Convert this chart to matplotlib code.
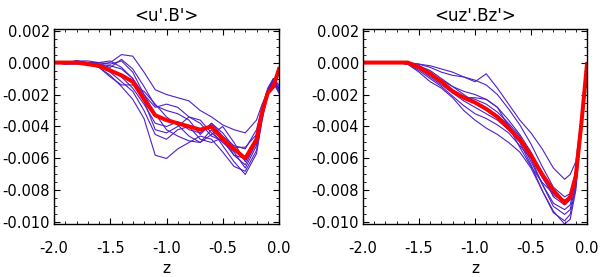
import numpy as np
import matplotlib
matplotlib.use("Agg")
import matplotlib.pyplot as plt
from matplotlib.ticker import MultipleLocator, FormatStrFormatter

plt.rcParams['font.family'] = ['DejaVu Sans']
plt.rcParams['axes.unicode_minus'] = False

# depth grid shared by all profiles
z = [-2.0, -1.9, -1.8, -1.7, -1.6, -1.5, -1.4, -1.3, -1.2, -1.1, -1.0, -0.9,
     -0.8, -0.7, -0.6, -0.5, -0.4, -0.3, -0.2, -0.15, -0.1, -0.05, 0.0]

# <u'.B'>  (units of 1e-3)
ub_runs = [
    [0, 0, 0.1, 0, -0.1, 0, 0.5, 0.4, -0.6, -1.7, -2.0, -2.2, -2.4, -3.0, -3.4, -3.9, -4.2, -4.4, -3.6, -2.6, -1.8, -1.2, -1.5],
    [0, 0, 0, -0.1, -0.3, -0.8, -1.5, -2.3, -3.5, -5.8, -6.0, -5.4, -5.0, -4.6, -4.8, -5.6, -6.5, -6.8, -5.5, -3.5, -1.9, -1.2, -1.8],
    [0, -0.1, 0, -0.1, -0.1, -0.3, 0.2, -0.4, -1.5, -2.7, -3.0, -3.2, -3.6, -4.5, -3.8, -4.6, -5.2, -5.4, -4.2, -2.8, -1.6, -1.0, -1.6],
    [0, 0, 0, 0, -0.2, -0.6, -1.2, -1.8, -3.0, -4.5, -4.8, -4.2, -4.0, -4.8, -5.0, -4.7, -5.8, -6.4, -5.0, -3.2, -1.8, -1.1, -1.9],
    [0, 0, 0.1, 0, -0.1, -0.2, -0.4, -1.0, -2.4, -4.2, -4.4, -4.0, -3.4, -3.6, -4.4, -5.0, -5.6, -6.6, -5.2, -3.3, -1.9, -1.2, -1.7],
    [0, 0, 0, -0.1, -0.3, -0.9, -1.4, -1.4, -1.8, -2.6, -3.4, -3.9, -4.6, -5.0, -4.5, -4.0, -5.0, -6.2, -5.0, -3.0, -1.7, -1.0, -1.4],
    [0, -0.1, -0.1, 0, 0, 0.1, -0.3, -1.0, -2.0, -3.2, -4.2, -4.6, -4.9, -5.0, -4.2, -5.2, -6.2, -7.0, -5.7, -3.6, -2.0, -1.3, -1.9],
    [0, 0, 0, 0, -0.1, -0.4, -0.9, -1.6, -2.6, -3.8, -4.0, -3.7, -4.2, -4.4, -3.8, -4.4, -5.3, -5.3, -4.5, -3.0, -1.7, -1.1, -1.6],
    [0, 0, 0.1, 0.1, 0, -0.1, 0.1, -0.6, -2.0, -2.8, -2.6, -2.8, -3.4, -3.8, -4.6, -4.9, -5.8, -6.0, -4.8, -3.1, -1.8, -1.1, -1.7],
]
ub_mean = [0, 0, 0, -0.1, -0.2, -0.5, -0.8, -1.2, -2.3, -3.3, -3.6, -3.8, -4.0, -4.2, -4.0, -4.8, -5.4, -6.0, -4.8, -3.1, -1.9, -1.5, -0.4]

# <uz'.Bz'>  (units of 1e-3)
uzbz_runs = [
    [0, 0, 0, 0, 0, -0.1, -0.2, -0.4, -0.6, -0.9, -1.2, -0.7, -1.6, -2.6, -3.6, -4.4, -5.4, -6.6, -7.3, -7.0, -6.2, -3.4, 0],
    [0, 0, 0, 0, 0, -0.1, -0.3, -0.6, -0.8, -0.9, -1.1, -1.4, -2.0, -2.9, -3.9, -5.1, -6.5, -7.8, -8.4, -8.2, -6.8, -3.6, 0],
    [0, 0, 0, 0, -0.1, -0.3, -0.7, -1.1, -1.5, -1.8, -2.0, -2.3, -2.8, -3.6, -4.5, -5.6, -7.0, -8.4, -8.9, -8.6, -7.2, -3.8, 0],
    [0, 0, 0, 0, 0, -0.2, -0.6, -1.2, -1.7, -2.1, -2.3, -2.6, -3.1, -3.8, -4.6, -6.0, -7.6, -9.0, -9.5, -9.2, -7.6, -4.0, 0],
    [0, 0, 0, 0, -0.1, -0.4, -0.9, -1.4, -1.9, -2.4, -2.8, -3.2, -3.6, -4.2, -5.0, -6.4, -8.0, -9.4, -9.9, -9.5, -7.8, -4.1, 0],
    [0, 0, 0, 0, -0.1, -0.6, -1.2, -1.6, -2.2, -3.0, -3.6, -4.1, -4.5, -5.0, -5.6, -6.6, -8.0, -9.3, -10.1, -9.8, -8.0, -4.2, 0],
    [0, 0, 0, 0, 0, -0.2, -0.5, -1.0, -1.5, -2.0, -2.5, -2.9, -3.3, -3.9, -4.8, -6.2, -7.6, -8.8, -9.2, -8.9, -7.4, -3.9, 0],
    [0, 0, 0, 0, -0.1, -0.5, -1.0, -1.5, -2.1, -2.7, -3.2, -3.5, -3.9, -4.4, -5.2, -6.0, -7.2, -8.3, -8.7, -8.5, -7.2, -3.8, 0],
    [0, 0, 0, 0, 0, -0.3, -0.8, -1.3, -1.8, -2.2, -2.2, -2.3, -2.8, -4.0, -5.3, -6.5, -7.5, -8.2, -8.6, -8.4, -7.3, -3.8, 0],
]
uzbz_mean = [0, 0, 0, 0, 0, -0.3, -0.7, -1.2, -1.8, -2.2, -2.5, -2.9, -3.4, -4.1, -4.8, -5.8, -7.0, -8.0, -8.8, -8.4, -7.1, -3.8, -0.1]

titles = ["<u'.B'>", "<uz'.Bz'>"]

fig = plt.figure(figsize=(6.0, 2.77), dpi=100)
ax1 = fig.add_axes([54/600, 53/277, 225/600, 195/277])
ax2 = fig.add_axes([363/600, 53/277, 224/600, 195/277])

for ax, runs, mean, title in [(ax1, ub_runs, ub_mean, titles[0]),
                              (ax2, uzbz_runs, uzbz_mean, titles[1])]:
    for r in runs:
        ax.plot(z, np.array(r) * 1e-3, color='#5020c8', lw=0.8)
    ax.plot(z, np.array(mean) * 1e-3, color='#ff0000', lw=2.9)
    ax.set_xlim(-2.0, 0.0)
    ax.set_ylim(-0.0101, 0.0021)
    ax.xaxis.set_major_locator(MultipleLocator(0.5))
    ax.xaxis.set_minor_locator(MultipleLocator(0.1))
    ax.yaxis.set_major_locator(MultipleLocator(0.002))
    ax.yaxis.set_minor_locator(MultipleLocator(0.0005))
    ax.xaxis.set_major_formatter(FormatStrFormatter('%.1f'))
    ax.yaxis.set_major_formatter(FormatStrFormatter('%.3f'))
    ax.tick_params(which='both', direction='in', top=True, right=True,
                   labelsize=10.5)
    ax.tick_params(which='major', length=4, width=0.8)
    ax.tick_params(which='minor', length=2, width=0.6)
    ax.tick_params(axis='x', which='major', pad=12)
    ax.tick_params(axis='y', which='major', pad=3)
    for s in ax.spines.values():
        s.set_linewidth(1.0)
    ax.set_title(title, fontsize=12, pad=6)
    ax.set_xlabel('z', fontsize=11, labelpad=4)

fig.savefig('out.png', dpi=100)
